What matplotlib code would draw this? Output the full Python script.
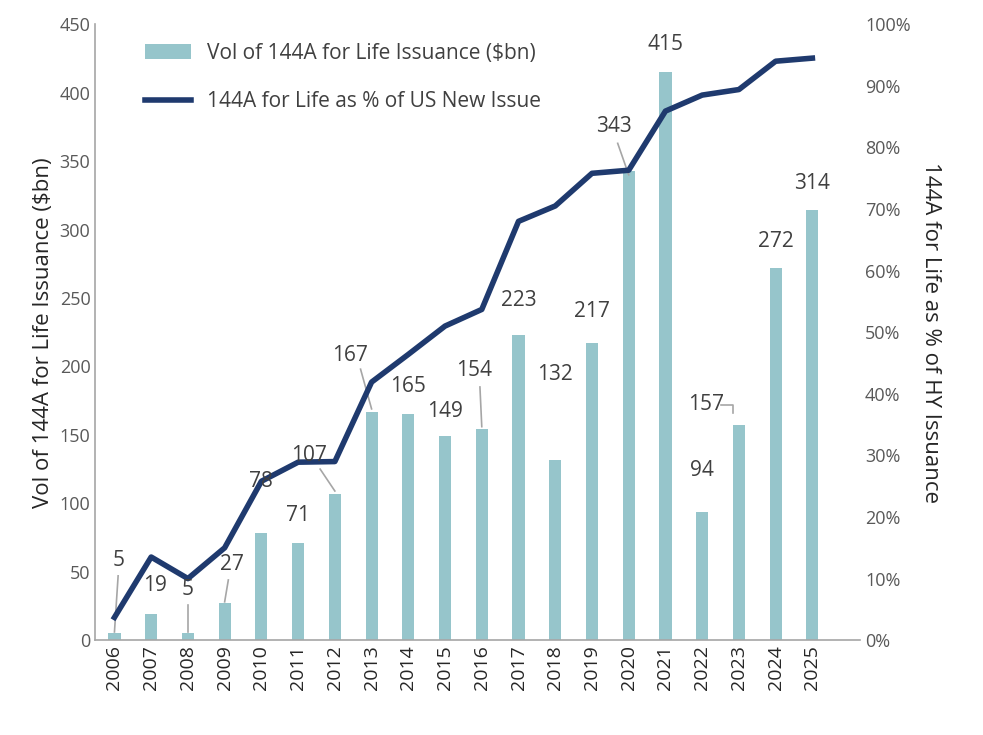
import matplotlib
matplotlib.use("Agg")
import matplotlib.pyplot as plt
import numpy as np

plt.rcParams['font.family'] = ['Open Sans', 'DejaVu Sans']

years = ['2006','2007','2008','2009','2010','2011','2012','2013','2014','2015','2016','2017','2018','2019','2020','2021','2022','2023','2024','2025']
volume = [5,19,5,27,78,71,107,167,165,149,154,223,132,217,343,415,94,157,272,314]
pct = [3.7,13.5,10,15,25.8,28.9,29,41.9,46.4,51,53.7,68,70.5,75.8,76.3,85.9,88.5,89.4,94,94.5]
lab_x = [0.1,0.1,0,0.2,0,0,-0.7,-0.6,0,0,-0.2,0,0,0,-0.4,0,0,-0.9,0,0]
lab_y = [58,40,37,55,116,91,135,208,185,167,197,248,194,240,375,435,124,172,291,334]
leader = [True,False,True,True,False,False,True,True,False,False,True,False,False,False,True,False,False,True,False,False]

bar_c = '#96C5CB'
line_c = '#1F3A6E'
grey = '#595959'

fig = plt.figure(figsize=(9.83,7.35), dpi=100)
ax = fig.add_axes([0.097,0.129,0.778,0.838])
x = np.arange(len(years))
ax.bar(x, volume, width=0.33, color=bar_c, label='Vol of 144A for Life Issuance ($bn)', zorder=2)
ax.set_ylim(0,450)
ax.set_yticks(range(0,451,50))
ax.set_xlim(-0.52,20.3)
ax.set_xticks(x)
ax.set_xticklabels(years, rotation=90, fontsize=14, color='#262626')
ax.tick_params(axis='y', labelsize=13, colors=grey, length=0)
ax.tick_params(axis='x', length=0)
ax.set_ylabel('Vol of 144A for Life Issuance ($bn)', fontsize=16, color='#262626')
for s in ['top','right']:
    ax.spines[s].set_visible(False)
for s in ['left','bottom']:
    ax.spines[s].set_color('#A6A6A6')
    ax.spines[s].set_linewidth(1.2)

ax2 = ax.twinx()
ax2.plot(x, pct, color=line_c, lw=4, label='144A for Life as % of US New Issue', zorder=5)
ax2.set_ylim(0,100)
ax2.set_yticks(range(0,101,10))
ax2.set_yticklabels([f'{t}%' for t in range(0,101,10)])
ax2.tick_params(axis='y', labelsize=13, colors=grey, length=0)
ax2.set_ylabel('144A for Life as % of HY Issuance', fontsize=16, color='#262626', rotation=270, labelpad=22)
for s in ['top','right','left','bottom']:
    ax2.spines[s].set_visible(False)

to_pct = 100/450
for i,v in enumerate(volume):
    tx = i + lab_x[i]
    ty = lab_y[i]
    ax2.text(tx, ty*to_pct, str(v), ha='center', va='center', fontsize=15, color='#404040', zorder=6)
    if leader[i]:
        if i == 17:
            xs, ys = [tx+0.4, tx+0.75, tx+0.75], [ty, ty, ty-6]
        elif i == 14:
            xs, ys = [tx+0.1, i], [ty-12, v-3]
        elif i in (0,2,3):
            xs, ys = [tx+(0 if i!=3 else -0.1), i], [ty-11, v+1]
        elif i == 10:
            xs, ys = [tx+0.15, i], [ty-12, v+2]
        else:
            xs, ys = [tx+0.3, i], [ty-10, v+2]
        ax.plot(xs, ys, color='#A6A6A6', lw=1.2, zorder=3)

h1,l1 = ax.get_legend_handles_labels()
h2,l2 = ax2.get_legend_handles_labels()
ax.legend(h1+h2, l1+l2, loc='upper left', bbox_to_anchor=(0.04,1.0), frameon=False, fontsize=15,
          labelspacing=1.3, handlelength=2.2, labelcolor='#404040')

fig.savefig('out.png', dpi=100)
